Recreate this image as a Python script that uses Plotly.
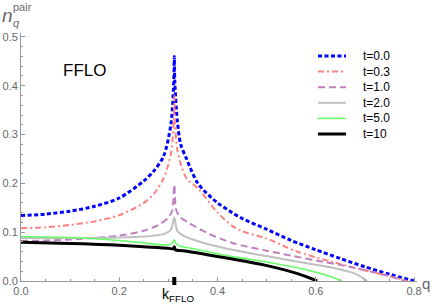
import plotly.graph_objects as go

# ---------------- data ----------------
k_fflo = 0.312

q_t00 = [0.0, 0.05, 0.1, 0.15, 0.2, 0.25, 0.27, 0.29, 0.305, 0.311, 0.312, 0.313, 0.318, 0.325, 0.337, 0.36, 0.4, 0.43, 0.45, 0.5, 0.55, 0.6, 0.65, 0.7, 0.75, 0.8]
n_t00 = [0.134, 0.137, 0.143, 0.153, 0.170, 0.205, 0.225, 0.255, 0.32, 0.41, 0.46, 0.41, 0.33, 0.28, 0.25, 0.2, 0.16, 0.14, 0.128, 0.106, 0.083, 0.064, 0.046, 0.029, 0.014, 0.0]

q_t03 = [0.0, 0.05, 0.1, 0.15, 0.2, 0.25, 0.27, 0.29, 0.305, 0.311, 0.312, 0.313, 0.318, 0.325, 0.337, 0.36, 0.4, 0.43, 0.45, 0.5, 0.56, 0.63, 0.7, 0.75, 0.785]
n_t03 = [0.108, 0.110, 0.115, 0.122, 0.135, 0.16, 0.178, 0.21, 0.26, 0.33, 0.38, 0.33, 0.27, 0.24, 0.21, 0.19, 0.14, 0.113, 0.102, 0.087, 0.061, 0.04, 0.022, 0.01, 0.0]

q_t10 = [0.0, 0.05, 0.1, 0.15, 0.2, 0.25, 0.28, 0.3, 0.308, 0.312, 0.316, 0.325, 0.34, 0.38, 0.43, 0.5, 0.55, 0.6, 0.65, 0.7, 0.75, 0.78]
n_t10 = [0.082, 0.083, 0.085, 0.088, 0.093, 0.103, 0.115, 0.13, 0.145, 0.197, 0.145, 0.13, 0.12, 0.098, 0.078, 0.062, 0.052, 0.042, 0.033, 0.022, 0.01, 0.0]

q_t20 = [0.0, 0.1, 0.2, 0.25, 0.29, 0.305, 0.312, 0.318, 0.33, 0.365, 0.43, 0.5, 0.56, 0.63, 0.68, 0.705]
n_t20 = [0.088, 0.088, 0.089, 0.091, 0.096, 0.105, 0.13, 0.103, 0.093, 0.08, 0.064, 0.051, 0.04, 0.028, 0.015, 0.0]

q_t50 = [0.0, 0.1, 0.16, 0.2, 0.25, 0.29, 0.305, 0.312, 0.316, 0.325, 0.34, 0.43, 0.494, 0.563, 0.63, 0.652]
n_t50 = [0.091, 0.089, 0.086, 0.083, 0.078, 0.074, 0.075, 0.084, 0.076, 0.071, 0.068, 0.05, 0.04, 0.027, 0.009, 0.0]

q_t100 = [0.0, 0.1, 0.16, 0.2, 0.25, 0.3, 0.31, 0.312, 0.314, 0.33, 0.43, 0.494, 0.563, 0.603]
n_t100 = [0.0795, 0.077, 0.075, 0.073, 0.07, 0.067, 0.066, 0.07, 0.064, 0.062, 0.045, 0.033, 0.015, 0.0]

labels = ["t=0.0", "t=0.3", "t=1.0", "t=2.0", "t=5.0", "t=10"]
xs = [q_t00, q_t03, q_t10, q_t20, q_t50, q_t100]
ys = [n_t00, n_t03, n_t10, n_t20, n_t50, n_t100]

x_ticks = [0.0, 0.2, 0.4, 0.6, 0.8]
y_ticks = [0.0, 0.1, 0.2, 0.3, 0.4, 0.5]

# ---------------- styles ----------------
colors = ["#0000FF", "#FF8080", "#C080C0", "#C0C0C0", "#66FF66", "#000000"]
widths = [3, 2, 2, 2, 1.6, 3]
dashes = ["4px,2.5px", "6px,3px,2px,3px", "7px,4px", "solid", "solid", "solid"]

fig = go.Figure()
for x, y, c, w, d, name in zip(xs, ys, colors, widths, dashes, labels):
    fig.add_trace(go.Scatter(x=x, y=y, mode="lines", name=name,
                             line=dict(color=c, width=w, dash=d, shape="spline", smoothing=0.8),
                             showlegend=False))

W, H = 436, 308
ml, mr, mt, mb = 21, 19, 33, 27
axis_col = "#999999"
lab_col = "#666666"

fig.update_layout(
    width=W, height=H,
    margin=dict(l=ml, r=mr, t=mt, b=mb),
    plot_bgcolor="white", paper_bgcolor="white",
    font=dict(family="Liberation Sans, Arial, sans-serif", size=11, color=lab_col),
    xaxis=dict(range=[0, 0.806], showgrid=False, zeroline=False, automargin=False,
               showline=True, linecolor=axis_col, linewidth=1,
               tickvals=x_ticks, ticktext=[f"{v:.1f}" for v in x_ticks],
               ticks="inside", ticklen=4, tickcolor=axis_col,
               minor=dict(ticks="inside", dtick=0.05, ticklen=2, tickcolor=axis_col),
               tickfont=dict(size=11, color=lab_col)),
    yaxis=dict(range=[0, 0.508], showgrid=False, zeroline=False, automargin=False,
               showline=True, linecolor=axis_col, linewidth=1,
               tickvals=y_ticks, ticktext=[f"{v:.1f}" for v in y_ticks],
               ticks="inside", ticklen=4, tickcolor=axis_col,
               minor=dict(ticks="inside", dtick=0.02, ticklen=2, tickcolor=axis_col),
               tickfont=dict(size=11, color=lab_col)),
)

pw = W - ml - mr
ph = H - mt - mb

def px_x(p):
    return (p - ml) / pw

def px_y(p):
    return (H - mb - p) / ph

# k_FFLO marker on the x axis
fig.add_shape(type="line", xref="x", yref="paper", x0=k_fflo, x1=k_fflo,
              y0=px_y(285), y1=px_y(277), line=dict(color="black", width=4))
fig.add_annotation(xref="paper", yref="paper", x=px_x(178), y=px_y(295), xanchor="center", yanchor="middle",
                   text="k<sub>FFLO</sub>", showarrow=False,
                   font=dict(size=14, color="black"))

# axis labels
fig.add_annotation(xref="paper", yref="paper", x=px_x(420), y=px_y(283), xanchor="left", yanchor="middle",
                   text="q", showarrow=False, font=dict(size=15, color=lab_col))
fig.add_annotation(xref="paper", yref="paper", x=px_x(0), y=px_y(15), xanchor="left", yanchor="middle",
                   text="<i>n</i>", showarrow=False, font=dict(size=19, color=lab_col))
fig.add_annotation(xref="paper", yref="paper", x=px_x(11), y=px_y(7), xanchor="left", yanchor="middle",
                   text="pair", showarrow=False, font=dict(size=11, color=lab_col))
fig.add_annotation(xref="paper", yref="paper", x=px_x(11), y=px_y(23), xanchor="left", yanchor="middle",
                   text="<i>q</i>", showarrow=False, font=dict(size=11, color=lab_col))

# FFLO label
fig.add_annotation(xref="paper", yref="paper", x=px_x(84), y=px_y(70), xanchor="center", yanchor="middle",
                   text="FFLO", showarrow=False, font=dict(size=17, color="black"))

# manual legend
for i, (c, w, d, name) in enumerate(zip(colors, widths, dashes, labels)):
    yy = px_y(56 + i * 15.6)
    fig.add_shape(type="line", xref="paper", yref="paper", x0=px_x(318), x1=px_x(346), y0=yy, y1=yy,
                  line=dict(color=c, width=w, dash=d))
    fig.add_annotation(xref="paper", yref="paper", x=px_x(361), y=yy, xanchor="left", yanchor="middle",
                       text=name, showarrow=False, font=dict(size=12, color="black"))

fig.write_html("out.html", config={"displayModeBar": False},
               post_script="document.body.style.margin='0';document.body.style.overflow='hidden';")
